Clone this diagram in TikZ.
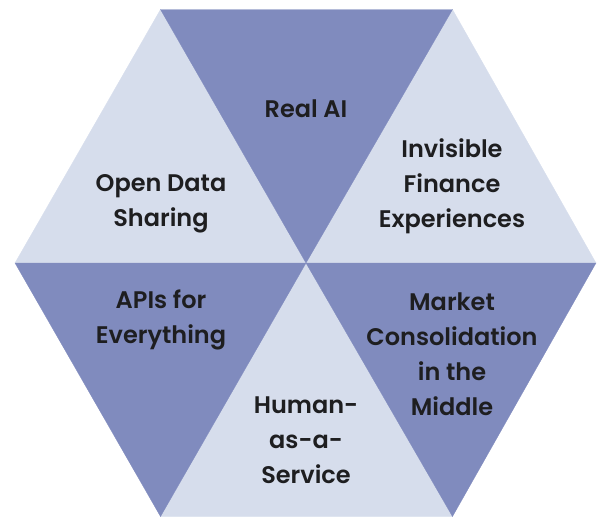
\documentclass[tikz,border=0pt]{standalone}
\usepackage{fontspec}
\setmainfont{Poppins}[BoldFont={Poppins SemiBold}]
\definecolor{darkwedge}{RGB}{128,139,190}
\definecolor{lightwedge}{RGB}{214,221,236}
\definecolor{labeltext}{RGB}{30,30,32}
\begin{document}
\begin{tikzpicture}[x=1pt,y=-1pt,
  dark/.style={fill=darkwedge,draw=darkwedge,line width=0.3pt},
  light/.style={fill=lightwedge,draw=lightwedge,line width=0.3pt},
  lbl/.style={align=center,text=labeltext,font=\fontsize{24}{35}\selectfont\bfseries,inner sep=0pt}]
\useasboundingbox (0,0) rectangle (597,517);
% hexagon corners and centre
\coordinate (C) at (306,263);
\coordinate (TL) at (160.5,9.5);
\coordinate (TR) at (452.5,9.5);
\coordinate (R) at (596,263);
\coordinate (BR) at (452.5,516.5);
\coordinate (BL) at (160.5,516.5);
\coordinate (L) at (15,263);
% six wedges
\fill[light] (TL) -- (L) -- (C) -- cycle;
\fill[light] (TR) -- (R) -- (C) -- cycle;
\fill[light] (BL) -- (BR) -- (C) -- cycle;
\fill[dark] (TL) -- (TR) -- (C) -- cycle;
\fill[dark] (L) -- (BL) -- (C) -- cycle;
\fill[dark] (R) -- (BR) -- (C) -- cycle;
% labels
\node[lbl] (ai) at (306,109) {Real AI};
\node[lbl] (inv) at (452,186) {Invisible\\Finance\\Experiences};
\node[lbl] (open) at (161,203.5) {Open Data\\Sharing};
\node[lbl] (apis) at (161,319.5) {APIs for\\Everything};
\node[lbl] (mkt) at (452,354.5) {Market\\Consolidation\\in the\\Middle};
\node[lbl] (haas) at (306,440.5) {Human-\\as-a-\\Service};
\end{tikzpicture}
\end{document}
